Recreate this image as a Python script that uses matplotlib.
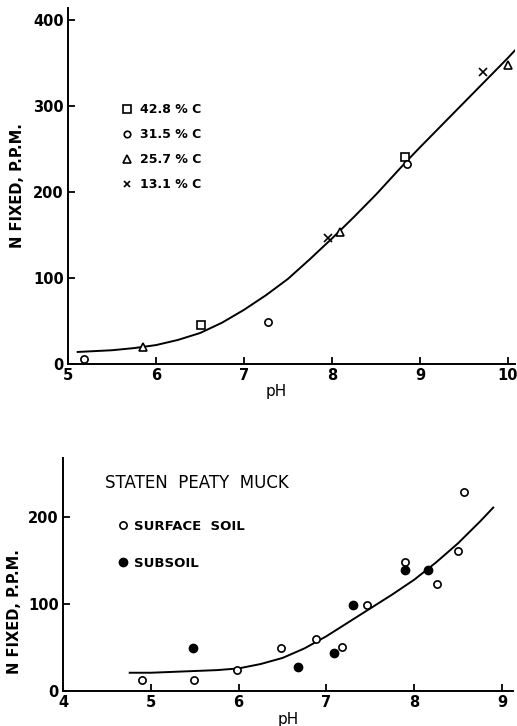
import matplotlib
matplotlib.use('Agg')
import matplotlib.pyplot as plt

# --- upper panel: N fixed vs pH for four carbon levels ---
sq_ph = [6.51, 8.83]
sq_n = [45, 241]
ci_ph = [5.18, 7.27, 8.85]
ci_n = [6, 49, 233]
tr_ph = [5.85, 8.09, 10.0]
tr_n = [20, 153, 348]
x_ph = [7.96, 9.72]
x_n = [146, 340]

# fitted curve
curve1_ph = [5.11, 5.5, 5.75, 6.0, 6.25, 6.5, 6.75, 7.0, 7.25, 7.5, 7.75,
             8.0, 8.25, 8.5, 8.85, 9.0, 9.25, 9.5, 9.75, 10.0, 10.1]
curve1_n = [14, 16, 18.5, 22, 28, 36, 48, 63, 80, 99, 122,
            146, 171, 197, 236, 252, 278, 304, 330, 356, 367]

labels_top = ['42.8 % C', '31.5 % C', '25.7 % C', '13.1 % C']

# --- lower panel: Staten peaty muck ---
surf_ph = [4.90, 5.49, 5.98, 6.48, 6.88, 7.18, 7.46, 7.90, 8.26, 8.50, 8.57]
surf_n = [13, 13, 24, 50, 60, 51, 99, 148, 123, 161, 229]
sub_ph = [5.48, 6.68, 7.09, 7.30, 7.90, 8.16]
sub_n = [49, 28, 44, 99, 139, 139]

curve2_ph = [4.76, 5.0, 5.25, 5.5, 5.75, 6.0, 6.25, 6.5, 6.75, 7.0, 7.25,
             7.5, 7.75, 8.0, 8.25, 8.5, 8.75, 8.9]
curve2_n = [21, 21, 22, 23, 24, 26, 31, 38, 49, 63, 79,
            95, 111, 128, 148, 170, 195, 211]

W, H = 517, 726
fig = plt.figure(figsize=(W / 100, H / 100), dpi=100)


def fax(x0, y0, x1, y1):
    # pixel box (left, top, right, bottom) -> figure fraction
    return [x0 / W, 1 - y1 / H, (x1 - x0) / W, (y1 - y0) / H]


def style(ax):
    for s in ['top', 'right']:
        ax.spines[s].set_visible(False)
    for s in ['left', 'bottom']:
        ax.spines[s].set_linewidth(1.4)
    ax.tick_params(direction='in', length=5, width=1.3, pad=3,
                   labelsize=10.5)
    for t in ax.get_xticklabels() + ax.get_yticklabels():
        t.set_fontweight('bold')


ax1 = fig.add_axes(fax(68, 8, 515, 364))
ax1.plot(curve1_ph, curve1_n, color='black', lw=1.4)
ms = dict(linestyle='none', color='black', mfc='white', mew=1.2)
h1, = ax1.plot(sq_ph, sq_n, marker='s', ms=6, **ms)
h2, = ax1.plot(ci_ph, ci_n, marker='o', ms=5.2, **ms)
h3, = ax1.plot(tr_ph, tr_n, marker='^', ms=5.8, **ms)
h4, = ax1.plot(x_ph, x_n, marker='x', ms=5.5, linestyle='none', color='black', mew=1.2)
ax1.set_xlim(5, 10.08)
ax1.set_ylim(0, 414)
ax1.set_xticks([5, 6, 7, 8, 9, 10])
ax1.set_yticks([0, 100, 200, 300, 400])
style(ax1)
ax1.set_xlabel('pH', fontsize=11)
ax1.xaxis.set_label_coords(0.467, -0.057)
ax1.set_ylabel('N FIXED, P.P.M.', fontsize=10.5, fontweight='bold', labelpad=6)
leg = ax1.legend([h1, h2, h3, h4], labels_top, loc='upper left',
                 bbox_to_anchor=(116 / W, 1 - 97 / H), bbox_transform=fig.transFigure,
                 frameon=False, fontsize=9, handlelength=0.7, handletextpad=0.7,
                 labelspacing=0.95, borderpad=0, markerscale=0.9)
for t in leg.get_texts():
    t.set_fontweight('bold')

ax2 = fig.add_axes(fax(63, 458, 513, 691))
ax2.plot(curve2_ph, curve2_n, color='black', lw=1.4)
g1, = ax2.plot(surf_ph, surf_n, marker='o', ms=5.2, **ms)
g2, = ax2.plot(sub_ph, sub_n, marker='o', ms=6, linestyle='none', color='black')
ax2.set_xlim(4, 9.125)
ax2.set_ylim(0, 268)
ax2.set_xticks([4, 5, 6, 7, 8, 9])
ax2.set_yticks([0, 100, 200])
style(ax2)
ax2.set_xlabel('pH', fontsize=11, labelpad=1)
ax2.set_ylabel('N FIXED, P.P.M.', fontsize=10.5, fontweight='bold')
ax2.yaxis.set_label_coords(-0.09, 0.34)
fig.text(105 / W, 1 - 483 / H, 'STATEN  PEATY  MUCK', fontsize=12, va='center', ha='left')
leg2 = ax2.legend([g1, g2], ['SURFACE  SOIL', 'SUBSOIL'], loc='upper left',
                  bbox_to_anchor=(112 / W, 1 - 513 / H), bbox_transform=fig.transFigure,
                  frameon=False, fontsize=9.5, handlelength=0.6, handletextpad=0.6,
                  labelspacing=1.85, borderpad=0, markerscale=1.0)
for t in leg2.get_texts():
    t.set_fontweight('bold')

fig.savefig('out.png', dpi=100)
